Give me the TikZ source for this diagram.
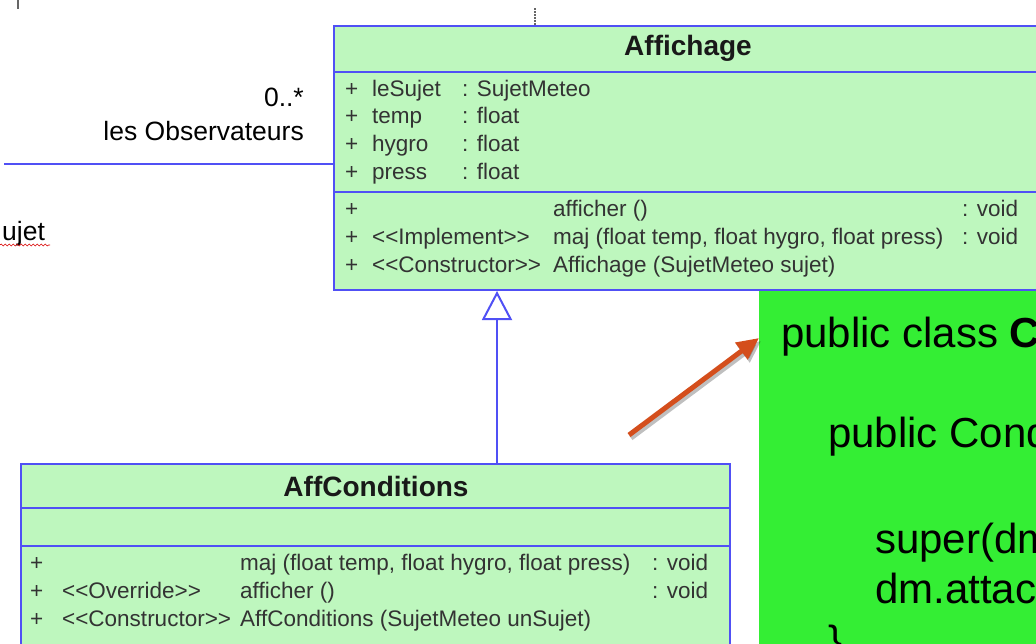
\documentclass[tikz,border=0pt]{standalone}
\usepackage{fontspec}
\setmainfont{Liberation Sans}
\usetikzlibrary{arrows.meta,positioning,decorations.pathmorphing}

\definecolor{umlfill}{RGB}{190,247,190}
\definecolor{umlline}{RGB}{80,80,245}
\definecolor{codegreen}{RGB}{52,238,52}
\definecolor{arrorange}{RGB}{212,78,28}

\newcommand{\umlstereo}[1]{<\kern0pt<#1>\kern0pt>}

\tikzset{
  umlbox/.style={draw=umlline, fill=umlfill, line width=2pt, anchor=north west, inner sep=0pt},
  umlsep/.style={draw=umlline, line width=2pt},
  umltitle/.style={font=\fontsize{28}{30}\selectfont\bfseries, text=black!90, anchor=base, inner sep=0pt},
  umltext/.style={font=\fontsize{22.5}{26}\selectfont, text=black!80, anchor=base west, inner sep=0pt},
  labeltext/.style={font=\fontsize{26.5}{30}\selectfont, anchor=base east, inner sep=0pt},
  codetext/.style={font=\fontsize{42}{48}\selectfont, anchor=base west, inner sep=0pt},
  genarrow/.style={draw=umlline, line width=2pt, -{Triangle[open, length=29pt, width=30pt, fill=white]}},
  pointer/.style={draw=arrorange, line width=5pt, -{Triangle[length=22pt, width=20pt]}}
}

\begin{document}
\begin{tikzpicture}[x=1pt, y=-1pt]
    \useasboundingbox (0,0) rectangle (1036,643);
    \clip (0,0) rectangle (1036,643);

    % Small marks at the top
    \draw[black!60, line width=1.5pt] (18,0) -- (18,9);
    \draw[black!60, line width=1.5pt, dash pattern=on 2pt off 1pt] (535,8) -- (535,25);

    % Class Affichage
    \node[umlbox, minimum width=800, minimum height=264] (affichage) at (333,25) {};
    \draw[umlsep] (333,72) -- (1140,72);
    \draw[umlsep] (333,192) -- (1140,192);
    \node[umltitle] (affTitle) at (688,55) {Affichage};

    \foreach \nom/\typ/\y in {leSujet/SujetMeteo/96, temp/float/123, hygro/float/151, press/float/179} {
        \node[umltext] (plus-\nom) at (345,\y) {+};
        \node[umltext] (att-\nom) at (372,\y) {\nom};
        \node[umltext] (type-\nom) at (462,\y) {: \typ};
    }

    \node[umltext] (opPlusA) at (345,216) {+};
    \node[umltext] (opAfficher) at (553,216) {afficher ()};
    \node[umltext] (opVoidA) at (962,216) {: void};
    \node[umltext] (opPlusB) at (345,244) {+};
    \node[umltext] (opImpl) at (372,244) {\umlstereo{Implement}};
    \node[umltext] (opMaj) at (553,244) {maj (float temp, float hygro, float press)};
    \node[umltext] (opVoidB) at (962,244) {: void};
    \node[umltext] (opPlusC) at (345,272) {+};
    \node[umltext] (opCons) at (372,272) {\umlstereo{Constructor}};
    \node[umltext] (opAffichage) at (553,272) {Affichage (SujetMeteo sujet)};

    % Association towards the observers
    \coordinate (assocEnd) at (4,164);
    \draw[umlsep] (assocEnd) -- (assocEnd -| affichage.west);
    \node[labeltext] (mult) at (304,106) {0..*};
    \node[labeltext] (role) at (304,140) {les Observateurs};

    % Cut text on the left
    \node[font=\fontsize{26.5}{30}\selectfont, anchor=base west, inner sep=0pt] (sujet) at (2,240) {ujet};
    \draw[red!85!black, line width=0.6pt, decorate, decoration={snake, amplitude=1pt, segment length=4pt}] (0,245) -- (50,245);

    % Class AffConditions
    \node[umlbox, minimum width=709, minimum height=250] (affcond) at (20,463) {};
    \draw[umlsep] (20,508) -- (729,508);
    \draw[umlsep] (20,546) -- (729,546);
    \node[umltitle] (condTitle) at (376,496) {AffConditions};

    \node[umltext] (cPlusA) at (30,570) {+};
    \node[umltext] (cMaj) at (240,570) {maj (float temp, float hygro, float press)};
    \node[umltext] (cVoidA) at (652,570) {: void};
    \node[umltext] (cPlusB) at (30,598) {+};
    \node[umltext] (cOver) at (62,598) {\umlstereo{Override}};
    \node[umltext] (cAfficher) at (240,598) {afficher ()};
    \node[umltext] (cVoidB) at (652,598) {: void};
    \node[umltext] (cPlusC) at (30,626) {+};
    \node[umltext] (cCons) at (62,626) {\umlstereo{Constructor}};
    \node[umltext] (cCtor) at (240,626) {AffConditions (SujetMeteo unSujet)};

    % Generalization
    \coordinate (gen) at (497,0);
    \draw[genarrow] (gen |- affcond.north) -- (gen |- affichage.south);

    % Code box
    \node[fill=codegreen, anchor=north west, minimum width=320, minimum height=400, inner sep=0pt] (code) at (759,291) {};
    \node[codetext] (line1) at (781,347) {public class \textbf{C}};
    \node[codetext] (line2) at (828,447) {public Cond};
    \node[codetext] (line3) at (875,553) {super(dm};
    \node[codetext] (line4) at (875,603) {dm.attac};
    \node[codetext] (line5) at (828,655) {\}};

    % Pointer to the code
    \coordinate (tail) at (629,435);
    \draw[pointer, draw=black, opacity=0.25, transform canvas={shift={(2pt,-3pt)}}] (tail) -- (code.west |- 0,338);
    \draw[pointer] (tail) -- (code.west |- 0,338);
\end{tikzpicture}
\end{document}
